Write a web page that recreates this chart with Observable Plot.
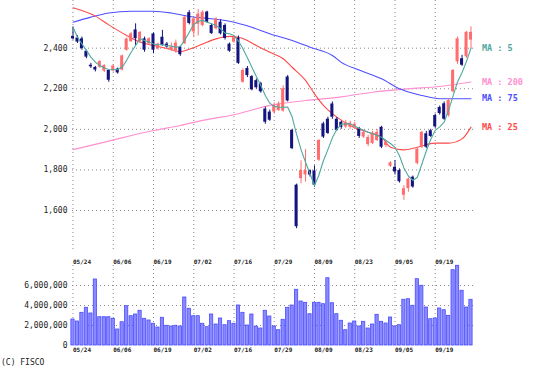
<!DOCTYPE html>
<html><head><meta charset="utf-8">
<script src="https://cdn.jsdelivr.net/npm/d3@7"></script>
<script src="https://cdn.jsdelivr.net/npm/@observablehq/plot@0.6"></script>
<style>
body{margin:0;background:#fff;}
#wrap{position:relative;width:541px;height:375px;overflow:hidden;font-family:"DejaVu Sans Mono",monospace;}
#main{position:absolute;left:0;top:0;}
#vol{position:absolute;left:0;top:255px;}
#credit{position:absolute;left:1px;top:359px;font-size:8px;line-height:8px;color:#222;}
</style></head><body>
<div id="wrap"><div id="main"></div><div id="vol"></div><div id="credit">(C) FISCO</div></div>
<script>
// tick labels (trading-day index of each labelled gridline)
const dateLabels = ["05/24","06/06","06/19","07/02","07/16","07/29","08/09","08/23","09/05","09/19"];
const tickIdx = [0,9,18,27,36,45,54,63,72,81];
const priceTicks = [1600,1800,2000,2200,2400];
const volTicks = [0,2000000,4000000,6000000];

// daily OHLC
const opens  = [2458,2450,2446,2385,2316,2305,2306,2287,2290,2288,2297,2292,2390,2432,2490,2432,2446,2421,2470,2397,
                2454,2420,2389,2382,2405,2422,2575,2480,2518,2512,2578,2512,2496,2528,2512,2420,2430,2450,2232,2300,
                2260,2240,2225,2100,2085,2085,2093,2090,2258,1995,1725,1757,1775,1797,1795,1848,2027,2050,2125,2050,
                2035,2012,2010,2012,2002,1962,1925,1930,1945,2010,1920,1818,1813,1797,1675,1708,1764,1832,1912,1978,
                1993,2068,2108,2126,2068,2185,2332,2348,2357,2440];
const highs  = [2505,2462,2455,2390,2325,2310,2338,2318,2293,2318,2302,2366,2450,2478,2520,2482,2455,2452,2475,2425,
                2488,2428,2425,2440,2410,2556,2585,2550,2590,2585,2582,2518,2550,2540,2520,2425,2460,2460,2298,2310,
                2265,2248,2232,2110,2095,2130,2135,2215,2265,2000,1730,1845,1900,1800,1820,1950,2035,2060,2135,2058,
                2040,2045,2040,2035,2010,1995,1970,1990,2000,2015,1945,1840,1846,1805,1723,1760,1770,1910,1990,1990,
                2000,2075,2115,2135,2150,2295,2455,2365,2483,2505];
const lows   = [2440,2423,2390,2348,2300,2283,2300,2280,2232,2282,2272,2288,2385,2428,2413,2425,2380,2415,2372,2390,
                2410,2400,2385,2375,2360,2418,2515,2455,2460,2505,2522,2468,2490,2465,2440,2380,2425,2320,2228,2255,
                2190,2198,2178,2025,2040,2075,2088,2085,2135,1900,1510,1732,1740,1765,1715,1842,1955,1975,2050,1990,
                2000,2005,2000,2000,1955,1955,1915,1925,1940,1905,1910,1812,1775,1735,1650,1690,1710,1825,1905,1905,
                1960,2005,2070,2044,2060,2180,2320,2310,2350,2397];
const closes = [2446,2430,2398,2356,2308,2292,2334,2315,2242,2312,2278,2362,2445,2470,2447,2478,2390,2446,2390,2420,
                2413,2406,2405,2425,2368,2552,2522,2545,2568,2577,2528,2472,2545,2471,2448,2385,2452,2325,2290,2265,
                2195,2205,2185,2035,2045,2117,2125,2200,2140,1905,1520,1797,1797,1775,1725,1945,1962,1980,2060,1995,
                2010,2033,2030,2025,1965,1985,1960,1978,1985,1912,1935,1835,1790,1742,1707,1755,1716,1902,1985,1912,
                1965,2012,2078,2050,2142,2290,2446,2316,2478,2478];
// daily volume
const volumes = [2600000,2400000,3270000,3770000,3200000,6600000,2830000,2830000,2830000,2670000,
                 1600000,2330000,3930000,2930000,3100000,3470000,2670000,2500000,2170000,1800000,
                 2770000,1970000,1900000,1970000,1900000,4800000,3670000,2930000,2930000,2170000,
                 1830000,3100000,2100000,2700000,2030000,2430000,2170000,4000000,3270000,2000000,
                 3100000,1900000,1700000,3470000,2900000,1900000,1530000,2570000,3770000,4000000,
                 5570000,4400000,4270000,3130000,4270000,4270000,4130000,6730000,4230000,3130000,
                 2470000,1530000,2200000,2400000,1900000,2370000,1700000,2100000,3070000,2370000,
                 2200000,2800000,1900000,2030000,4570000,4630000,3970000,6630000,5970000,3800000,
                 2630000,2700000,3700000,3530000,2970000,7530000,7970000,5470000,3800000,4570000];
// moving averages
const ma5 = [2503,2454,2421,2389,2356,2331,2315,2302,2295,2294,2295,2306,2340,2380,2413,2446,2438,2430,2421,2417,
             2417,2413,2410,2405,2408,2441,2479,2517,2533,2537,2528,2520,2512,2496,2474,2471,2462,2435,2397,2353,
             2306,2261,2216,2167,2129,2113,2109,2109,2110,2062,1975,1900,1838,1781,1723,1775,1845,1900,1958,2000,
             2025,2027,2027,2015,2005,1995,1986,1978,1970,1961,1945,1930,1912,1870,1810,1770,1748,1764,1828,1893,
             1950,1995,2012,2035,2095,2165,2235,2280,2335,2400];
const ma25 = [[0,2599],[5,2558],[8,2515],[12,2463],[15,2430],[18,2413],[21,2398],[24,2383],[26,2395],[29,2421],
              [32,2446],[35,2458],[37,2454],[39,2438],[41,2413],[44,2380],[47,2348],[49,2306],[52,2241],[54,2175],
              [56,2118],[59,2060],[62,2019],[63,2008],[66,1986],[69,1961],[71,1912],[74,1899],[77,1912],[81,1932],
              [84,1932],[87,1953],[89,2011]];
const ma75 = [[0,2528],[4,2553],[8,2573],[13,2582],[18,2582],[22,2573],[26,2556],[31,2545],[35,2533],[40,2503],
              [44,2471],[49,2438],[53,2405],[58,2364],[60,2330],[64,2292],[69,2249],[73,2200],[78,2167],[82,2151],[89,2151]];
const ma200 = [[0,1900],[8,1942],[18,1994],[24,2019],[29,2044],[37,2077],[44,2118],[52,2142],[60,2160],[67,2183],
               [75,2200],[82,2211],[89,2233]];
const maLabels = ["MA : 5","MA : 200","MA : 75","MA : 25"];

const C5 = "#4fa8a0", C25 = "#ff4a4a", C75 = "#4f4fff", C200 = "#ff8fd0";
const UP = "#ff6e6e", DOWN = "#14147f";
const grid = {stroke:"#8a8a8a", strokeDasharray:"1,3", strokeWidth:1};
const xDomain = [-0.11, 89.56];

const candles = opens.map((o,i)=>({i, o, h:highs[i], l:lows[i], c:closes[i], up: closes[i] >= o}));
const last = a => a[a.length-1];
const legend = [
  {label: maLabels[0], v: last(ma5), color: C5},
  {label: maLabels[1], v: last(ma200)[1], color: C200},
  {label: maLabels[2], v: last(ma75)[1], color: C75},
  {label: maLabels[3], v: last(ma25)[1], color: C25}
];

const main = Plot.plot({
  width: 541, height: 255, marginLeft: 72, marginRight: 68, marginTop: 0, marginBottom: 3,
  x: {domain: xDomain, axis: null},
  y: {domain: [1393, 2635], axis: null},
  style: {fontFamily: "DejaVu Sans Mono, monospace", fontSize: "8px", background: "transparent", overflow: "visible"},
  marks: [
    Plot.ruleX(tickIdx, grid),
    Plot.ruleY(priceTicks, grid),
    Plot.axisY({ticks: priceTicks, tickSize: 0, tickPadding: 5, tickFormat: d3.format(","), label: null, fill: "#222", fontSize: 8}),
    Plot.line(ma200, {x: d=>d[0], y: d=>d[1], stroke: C200, strokeWidth: 1.1, curve: "monotone-x"}),
    Plot.line(ma75, {x: d=>d[0], y: d=>d[1], stroke: C75, strokeWidth: 1.1, curve: "monotone-x"}),
    Plot.line(ma25, {x: d=>d[0], y: d=>d[1], stroke: C25, strokeWidth: 1.1, curve: "monotone-x"}),
    Plot.ruleX(candles, {x: "i", y1: "l", y2: "h", stroke: d => d.up ? UP : DOWN, strokeWidth: 1}),
    Plot.rect(candles, {x1: d => d.i - 0.34, x2: d => d.i + 0.34, y1: "o", y2: "c", fill: d => d.up ? UP : DOWN}),
    Plot.line(ma5, {x: (d,i)=>i, y: d=>d, stroke: C5, strokeWidth: 1.1}),
    Plot.text(legend, {x: 89, y: "v", text: "label", fill: "color", dx: 11, textAnchor: "start", fontSize: 8.5, fontWeight: "bold"})
  ]
});
document.getElementById("main").append(main);

const volData = volumes.map((v,i)=>({i, v}));
const vol = Plot.plot({
  width: 541, height: 100, marginLeft: 72, marginRight: 68, marginTop: 10, marginBottom: 10,
  x: {domain: xDomain, axis: null},
  y: {domain: [0, 8000000], axis: null},
  style: {fontFamily: "DejaVu Sans Mono, monospace", fontSize: "8px", background: "transparent", overflow: "visible"},
  marks: [
    Plot.ruleX(tickIdx, grid),
    Plot.ruleY(volTicks.filter(v => v > 0), grid),
    Plot.rect(volData, {x1: d => d.i - 0.36, x2: d => d.i + 0.36, y1: 0, y2: "v", fill: "#8a8aff", stroke: "#4a4aff", strokeWidth: 0.8}),
    Plot.axisY({ticks: volTicks, tickSize: 0, tickPadding: 5, tickFormat: d3.format(","), label: null, fill: "#222", fontSize: 8}),
    Plot.text(tickIdx, {x: d => d, text: (d,k) => dateLabels[k], frameAnchor: "top", dy: -6, textAnchor: "start", fontSize: 6, fontWeight: "bold", fill: "#222"}),
    Plot.text(tickIdx, {x: d => d, text: (d,k) => dateLabels[k], frameAnchor: "bottom", dy: 6, textAnchor: "start", fontSize: 6, fontWeight: "bold", fill: "#222"})
  ]
});
document.getElementById("vol").append(vol);
</script>
</body></html>
